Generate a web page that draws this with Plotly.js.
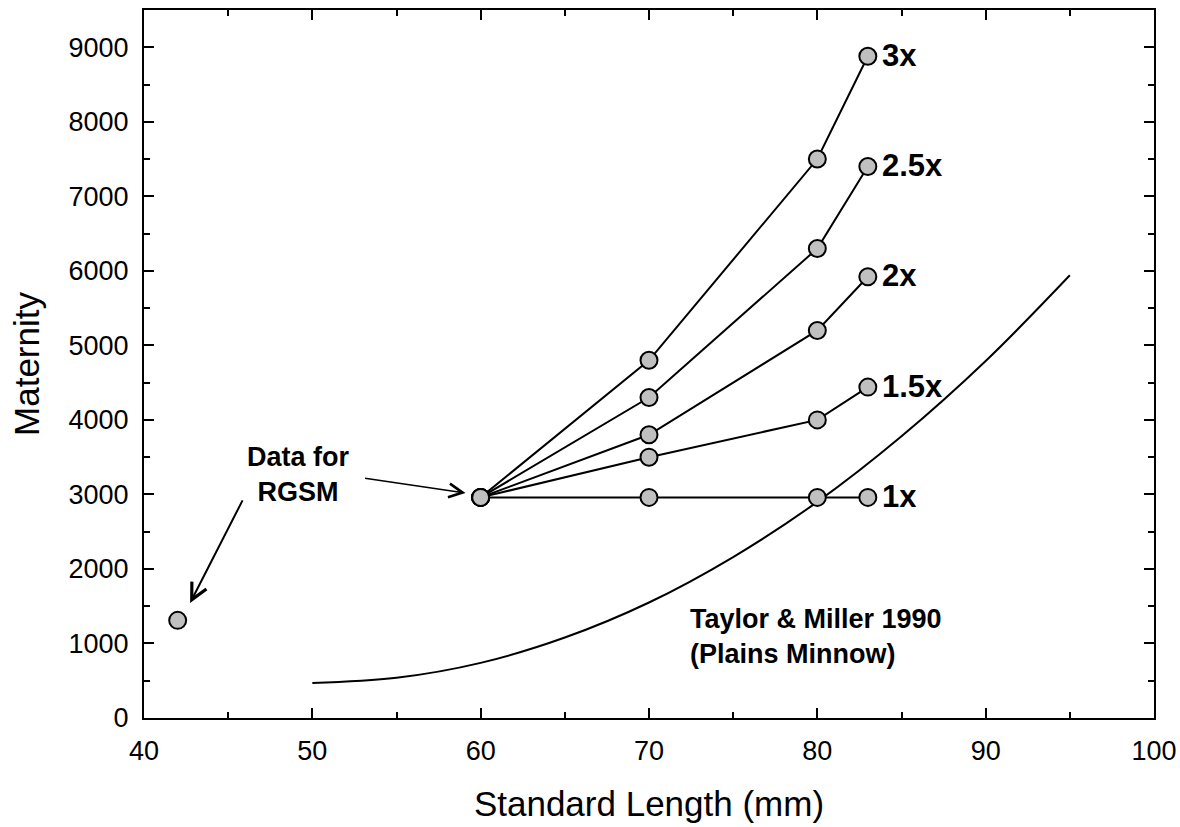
<!DOCTYPE html>
<html>
<head>
<meta charset="utf-8">
<script src="https://cdn.plot.ly/plotly-3.0.1.min.js"></script>
<style>html,body{margin:0;padding:0;background:#fff;}#chart{width:1180px;height:827px;}</style>
</head>
<body>
<div id="chart"></div>
<script>
// Standard length (mm) for the projected series
const lengths = [60, 70, 80, 83];
const seriesNames = ["1x", "1.5x", "2x", "2.5x", "3x"];
const series1x = [2960, 2960, 2960, 2960];
const series15x = [2960, 3500, 4000, 4440];
const series2x = [2960, 3800, 5200, 5920];
const series25x = [2960, 4300, 6300, 7400];
const series3x = [2960, 4800, 7500, 8880];
const seriesValues = [series1x, series15x, series2x, series25x, series3x];

// RGSM observed point
const rgsmLength = [42];
const rgsmMaternity = [1310];

// Taylor & Miller 1990 (Plains Minnow) curve
const tmLength = [50, 55, 60, 65, 70, 75, 80, 85, 90, 95];
const tmMaternity = [470, 540, 740, 1080, 1550, 2160, 2900, 3780, 4790, 5940];

const FONT = "Liberation Sans, Arial, sans-serif";
const markerStyle = {size: 17, color: "#c0c0c0", line: {color: "#000", width: 2}};

const traces = [];
traces.push({
  x: tmLength, y: tmMaternity, mode: "lines", type: "scatter",
  line: {color: "#000", width: 2, shape: "spline", smoothing: 1},
  hoverinfo: "skip"
});
seriesValues.forEach((vals, i) => {
  traces.push({
    x: lengths, y: vals, mode: "lines+markers", type: "scatter",
    name: seriesNames[i],
    line: {color: "#000", width: 2},
    marker: markerStyle
  });
});
traces.push({
  x: rgsmLength, y: rgsmMaternity, mode: "markers", type: "scatter",
  marker: markerStyle
});

const annotations = [];
seriesValues.forEach((vals, i) => {
  annotations.push({
    x: lengths[lengths.length - 1], y: vals[vals.length - 1],
    xref: "x", yref: "y", text: "<b>" + seriesNames[i] + "</b>", showarrow: false,
    xanchor: "left", yanchor: "middle", xshift: 12, yshift: 1,
    font: {family: FONT, size: 31, color: "#000"}
  });
});
annotations.push({
  x: 49.2, y: 3262, xref: "x", yref: "y",
  text: "<b>Data for<br>RGSM</b>", showarrow: false,
  xanchor: "center", yanchor: "middle", align: "center",
  font: {family: FONT, size: 27, color: "#000"}
});
annotations.push({
  x: 72.3, y: 1100, xref: "x", yref: "y",
  text: "<b>Taylor &amp; Miller 1990<br>(Plains Minnow)</b>", showarrow: false,
  xanchor: "left", yanchor: "middle", align: "left",
  font: {family: FONT, size: 27, color: "#000"}
});
// arrows
annotations.push({
  x: 42.74, y: 1544, ax: 45.9, ay: 2940, xref: "x", yref: "y", axref: "x", ayref: "y",
  text: "", showarrow: true, arrowhead: 5, arrowsize: 1.6, arrowwidth: 2, arrowcolor: "#000"
});
annotations.push({
  x: 59.1, y: 3020, ax: 53.04, ay: 3221, xref: "x", yref: "y", axref: "x", ayref: "y",
  text: "", showarrow: true, arrowhead: 5, arrowsize: 1.8, arrowwidth: 1.5, arrowcolor: "#000"
});

const layout = {
  width: 1180, height: 827,
  margin: {l: 144, r: 26, t: 10, b: 109},
  paper_bgcolor: "#fff", plot_bgcolor: "#fff",
  showlegend: false,
  font: {family: FONT, color: "#000"},
  xaxis: {
    range: [40, 100], dtick: 10, tick0: 40,
    ticks: "inside", ticklen: 10, tickwidth: 2, tickcolor: "#000",
    minor: {ticks: "inside", ticklen: 6, tickwidth: 2, tickcolor: "#000", dtick: 5},
    showline: true, linewidth: 2, linecolor: "#000", mirror: "ticks",
    showgrid: false, zeroline: false,
    tickfont: {family: FONT, size: 27, color: "#000"},
    ticklabelstandoff: 8,
    title: {text: "Standard Length (mm)", font: {family: FONT, size: 35, color: "#000"}, standoff: 26}
  },
  yaxis: {
    range: [0, 9500], dtick: 1000, tick0: 0,
    ticks: "inside", ticklen: 10, tickwidth: 2, tickcolor: "#000",
    minor: {ticks: "inside", ticklen: 6, tickwidth: 2, tickcolor: "#000", dtick: 500},
    showline: true, linewidth: 2, linecolor: "#000", mirror: "ticks",
    showgrid: false, zeroline: false,
    tickfont: {family: FONT, size: 27, color: "#000"},
    ticklabelstandoff: 8,
    title: {text: "Maternity", font: {family: FONT, size: 35, color: "#000"}, standoff: 18}
  },
  annotations: annotations
};

Plotly.newPlot("chart", traces, layout, {displayModeBar: false, staticPlot: true});
</script>
</body>
</html>
